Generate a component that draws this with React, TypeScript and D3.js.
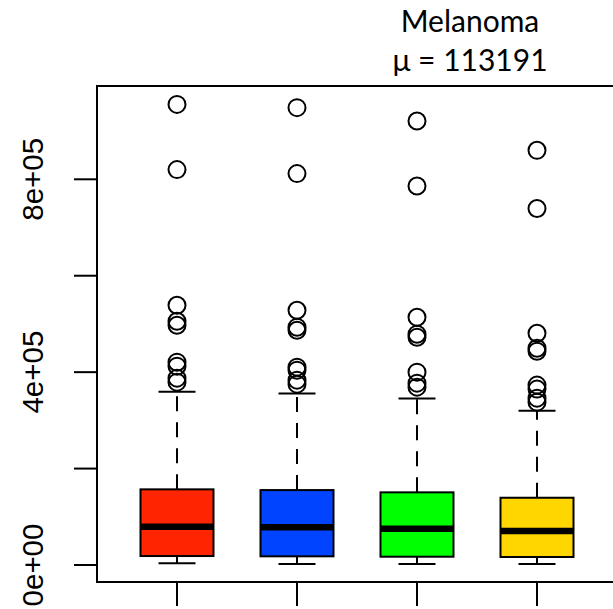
import React from "react";
import * as d3 from "d3";

// box statistics
const groups = ["G1", "G2", "G3", "G4"];
const colors = ["#ff2500", "#0044ff", "#00ff00", "#ffd600"];
const lowerWhisker = [3500, 2000, 2000, 2000];
const q1 = [18600, 18000, 17200, 16600];
const medians = [79400, 78100, 75200, 70500];
const q3 = [156900, 155400, 150700, 139500];
const upperWhisker = [359200, 355800, 345500, 319800];
const outliers = [
  [955400, 820100, 538900, 505700, 497400, 420700, 412400, 387600, 379300],
  [948600, 811800, 528500, 493300, 487000, 410400, 404100, 383400, 375100],
  [920800, 786100, 514000, 478800, 472500, 400000, 377200, 368900],
  [860100, 739300, 480800, 449700, 443500, 373100, 364800, 346100, 337800]
];
const yTicks = [0, 200000, 400000, 600000, 800000];
const yLabels = ["0e+00", "", "4e+05", "", "8e+05"];
const title = "Melanoma";
const subtitle = "\u03bc = 113191";

export default function App() {
  const width = 613;
  const height = 609;
  const left = 97;
  const top = 86;
  const bottom = 582;

  const y = d3.scaleLinear().domain([0, 800000]).range([565, 179.3]);
  const x = d3.scalePoint().domain(groups).range([177, 537]);
  const boxW = 73;
  const capW = 37;

  return (
    <svg
      width={width}
      height={height}
      style={{ position: "absolute", left: 0, top: 0, background: "#fff" }}
    >
      {/* frame */}
      <rect
        x={left}
        y={top}
        width={800}
        height={bottom - top}
        fill="none"
        stroke="#000"
        strokeWidth={2}
      />

      {/* y axis */}
      {yTicks.map((t, i) => (
        <g key={t}>
          <line x1={74} x2={left} y1={y(t)} y2={y(t)} stroke="#000" strokeWidth={2} />
          {yLabels[i] && (
            <text
              transform={`translate(43,${y(t)}) rotate(-90)`}
              textAnchor="middle"
              fontFamily="'Liberation Sans', Arial, sans-serif"
              fontSize={29.5}
              fill="#000"
            >
              {yLabels[i]}
            </text>
          )}
        </g>
      ))}

      {/* x ticks */}
      {groups.map((g) => (
        <line key={g} x1={x(g)} x2={x(g)} y1={bottom} y2={606} stroke="#000" strokeWidth={2} />
      ))}

      {/* boxes */}
      {groups.map((g, i) => {
        const cx = x(g) as number;
        return (
          <g key={g}>
            <line
              x1={cx}
              x2={cx}
              y1={y(q3[i])}
              y2={y(upperWhisker[i])}
              stroke="#000"
              strokeWidth={2}
              strokeDasharray="15,11"
            />
            <line
              x1={cx}
              x2={cx}
              y1={y(q1[i])}
              y2={y(lowerWhisker[i])}
              stroke="#000"
              strokeWidth={2}
              strokeDasharray="15,11"
            />
            <line
              x1={cx - capW / 2}
              x2={cx + capW / 2}
              y1={y(upperWhisker[i])}
              y2={y(upperWhisker[i])}
              stroke="#000"
              strokeWidth={2}
            />
            <line
              x1={cx - capW / 2}
              x2={cx + capW / 2}
              y1={y(lowerWhisker[i])}
              y2={y(lowerWhisker[i])}
              stroke="#000"
              strokeWidth={2}
            />
            <rect
              x={cx - boxW / 2}
              y={y(q3[i])}
              width={boxW}
              height={y(q1[i]) - y(q3[i])}
              fill={colors[i]}
              stroke="#000"
              strokeWidth={2}
            />
            <line
              x1={cx - boxW / 2}
              x2={cx + boxW / 2}
              y1={y(medians[i])}
              y2={y(medians[i])}
              stroke="#000"
              strokeWidth={6.5}
            />
            {outliers[i].map((v, j) => (
              <circle
                key={j}
                cx={cx}
                cy={y(v)}
                r={8.5}
                fill="none"
                stroke="#000"
                strokeWidth={2}
              />
            ))}
          </g>
        );
      })}

      {/* title */}
      <text
        x={470}
        y={32}
        textAnchor="middle"
        fontFamily="Lato, 'Open Sans', sans-serif"
        fontSize={30}
        fill="#000"
      >
        {title}
      </text>
      <text
        x={470}
        y={71}
        textAnchor="middle"
        fontFamily="Lato, 'Open Sans', sans-serif"
        fontSize={30}
        fill="#000"
      >
        {subtitle}
      </text>
    </svg>
  );
}
